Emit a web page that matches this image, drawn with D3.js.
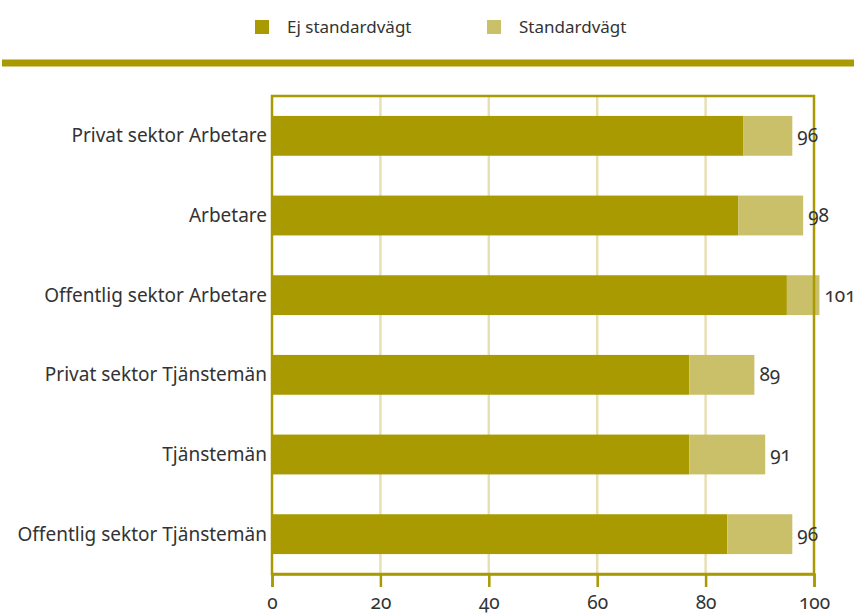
<!DOCTYPE html>
<html>
<head>
<meta charset="utf-8">
<script src="https://cdn.jsdelivr.net/npm/d3@7"></script>
<style>
  body { margin: 0; background: #fff; }
  svg text { font-family: "Noto Sans", "Open Sans", sans-serif; fill: #333; font-variant-numeric: oldstyle-nums; }
</style>
</head>
<body>
<div id="chart"></div>
<script>
const categories = ['Privat sektor Arbetare', 'Arbetare', 'Offentlig sektor Arbetare',
    'Privat sektor Tjänstemän', 'Tjänstemän', 'Offentlig sektor Tjänstemän'];
const ejStandard = [87, 86, 95, 77, 77, 84];
const standard = [9, 12, 6, 12, 14, 12];
const totals = [96, 98, 101, 89, 91, 96];
const seriesNames = ['Ej standardvägt', 'Standardvägt'];
const xTicks = [0, 20, 40, 60, 80, 100];

const colors = ['#a89a00', '#cbc06a'];
const width = 854, height = 615;
const margin = {top: 96, right: 40, bottom: 41, left: 272};

const svg = d3.select('#chart').append('svg')
    .attr('width', width)
    .attr('height', height);

const x = d3.scaleLinear()
    .domain([0, 100])
    .range([margin.left, width - margin.right]);
const y = d3.scaleBand()
    .domain(categories)
    .range([margin.top, height - margin.bottom])
    .paddingInner(0.5)
    .paddingOuter(0.25);

// legend + rule
const legend = svg.append('g').attr('class', 'legend');
const legendX = [255, 487];
seriesNames.forEach((name, i) => {
    legend.append('rect')
        .attr('x', legendX[i]).attr('y', 20)
        .attr('width', 14).attr('height', 14)
        .attr('fill', colors[i]);
    legend.append('text')
        .attr('x', legendX[i] + 32).attr('y', 33)
        .attr('font-size', 17)
        .text(name);
});
svg.append('rect')
    .attr('x', 2).attr('y', 59.5)
    .attr('width', width - 2).attr('height', 7)
    .attr('fill', colors[0]);

// grid
svg.append('g').attr('class', 'grid')
    .selectAll('line')
    .data(xTicks.slice(1, -1))
    .join('line')
    .attr('x1', d => x(d)).attr('x2', d => x(d))
    .attr('y1', margin.top).attr('y2', height - margin.bottom)
    .attr('stroke', '#e8e0b4')
    .attr('stroke-width', 2.5);

// bars
const stackData = categories.map((c, i) => ({cat: c, ej: ejStandard[i], std: standard[i]}));
const stack = d3.stack().keys(['ej', 'std'])(stackData);
svg.append('g').attr('id', 'data')
    .selectAll('g')
    .data(stack)
    .join('g')
    .attr('fill', (d, i) => colors[i])
    .selectAll('rect')
    .data(d => d)
    .join('rect')
    .attr('x', d => x(d[0]))
    .attr('y', d => y(d.data.cat))
    .attr('width', d => x(d[1]) - x(d[0]))
    .attr('height', y.bandwidth());

// frame
svg.append('rect')
    .attr('x', margin.left).attr('y', margin.top)
    .attr('width', x(100) - margin.left)
    .attr('height', height - margin.bottom - margin.top)
    .attr('fill', 'none')
    .attr('stroke', colors[0])
    .attr('stroke-width', 2.5);

// x axis
const xAxis = svg.append('g')
    .attr('class', 'x axis')
    .attr('transform', `translate(0,${height - margin.bottom})`)
    .call(d3.axisBottom(x).tickValues(xTicks).tickSize(13).tickPadding(9));
xAxis.select('.domain').attr('stroke', colors[0]).attr('stroke-width', 2.5);
xAxis.selectAll('.tick line').attr('stroke', colors[0]).attr('stroke-width', 2.5);
xAxis.selectAll('.tick text').attr('font-size', 19).attr('fill', '#333')
    .attr('font-family', '"Noto Sans", sans-serif');

// category labels
svg.append('g').attr('class', 'y labels')
    .selectAll('text')
    .data(categories)
    .join('text')
    .attr('x', margin.left - 5)
    .attr('y', d => y(d) + y.bandwidth() / 2)
    .attr('dy', '0.35em')
    .attr('text-anchor', 'end')
    .attr('font-size', 19)
    .text(d => d);

// totals
svg.append('g').attr('class', 'totals')
    .selectAll('text')
    .data(categories)
    .join('text')
    .attr('x', (d, i) => x(totals[i]) + 5)
    .attr('y', d => y(d) + y.bandwidth() / 2)
    .attr('dy', '0.35em')
    .attr('font-size', 19)
    .text((d, i) => totals[i]);
</script>
</body>
</html>
